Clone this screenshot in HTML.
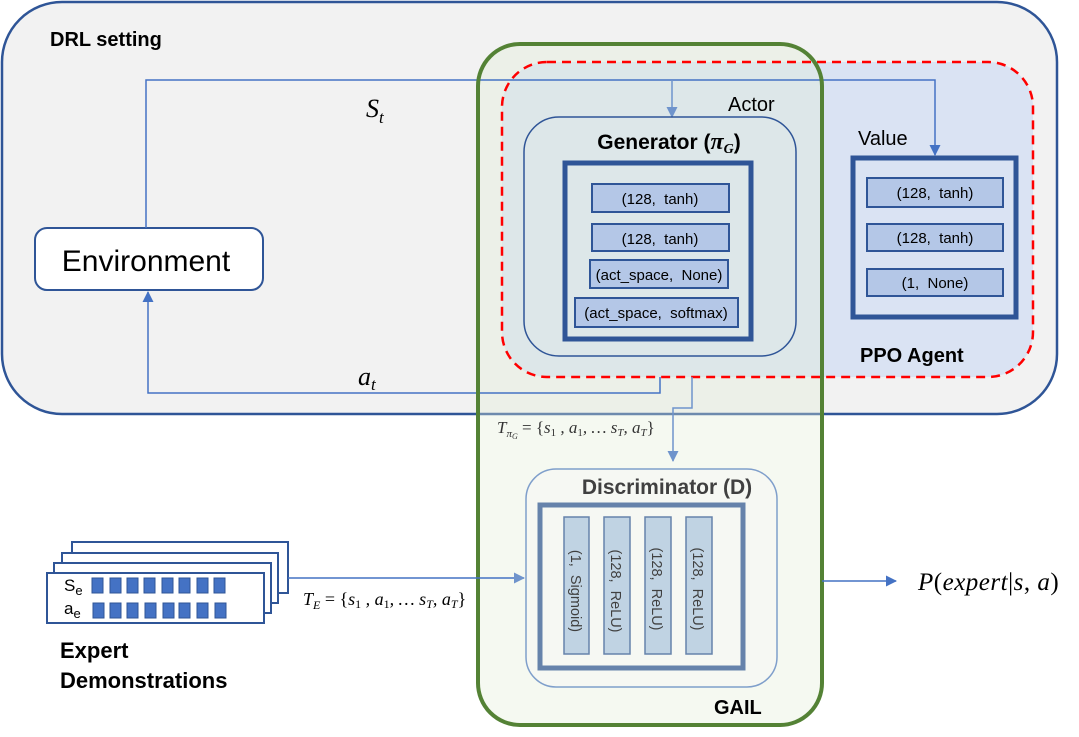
<!DOCTYPE html>
<html><head><meta charset="utf-8"><style>
html,body{margin:0;padding:0;background:#fff;width:1079px;height:737px;overflow:hidden}
svg{display:block;font-family:"Liberation Sans",sans-serif}
.m{font-family:"Liberation Serif",serif;font-style:italic}
</style></head><body>
<svg width="1079" height="737" viewBox="0 0 1079 737">
<defs>
<marker id="ah" markerWidth="11" markerHeight="11" refX="10" refY="5.5" orient="auto" markerUnits="userSpaceOnUse"><path d="M0,0 L11,5.5 L0,11 z" fill="#4472c4"/></marker>
<marker id="ahl" markerWidth="11" markerHeight="11" refX="10" refY="5.5" orient="auto" markerUnits="userSpaceOnUse"><path d="M0,0 L11,5.5 L0,11 z" fill="#6f94cc"/></marker>
</defs>
<rect x="2" y="2" width="1055" height="412" rx="60" fill="#f2f2f2" stroke="#2f5597" stroke-width="2.5"/>
<text x="50" y="46" font-size="20" font-weight="bold">DRL setting</text>
<rect x="502" y="62" width="531" height="315" rx="45" fill="#dae3f3"/>
<rect x="478" y="44" width="344" height="681" rx="42" fill="rgba(226,238,215,0.35)"/>
<rect x="502" y="62" width="531" height="315" rx="45" fill="none" stroke="#ff0000" stroke-width="2.5" stroke-dasharray="9,6"/>
<rect x="35" y="228" width="228" height="62" rx="12" fill="#fff" stroke="#2f5597" stroke-width="2"/>
<text x="146" y="271" font-size="30" text-anchor="middle">Environment</text>
<polyline points="146,228 146,80 935,80 935,155" fill="none" stroke="#4472c4" stroke-width="1.5" marker-end="url(#ah)"/>
<line x1="672" y1="80" x2="672" y2="117" stroke="#6f94cc" stroke-width="1.5" marker-end="url(#ahl)"/>
<text x="366" y="117" font-size="26" class="m">S<tspan font-size="17" dy="6">t</tspan></text>
<polyline points="660,377 660,393 148,393 148,292" fill="none" stroke="#4472c4" stroke-width="1.5" marker-end="url(#ah)"/>
<text x="358" y="385" font-size="26" class="m">a<tspan font-size="17" dy="5">t</tspan></text>
<rect x="524" y="117" width="272" height="239" rx="35" fill="none" stroke="#2f5597" stroke-width="1.5"/>
<text x="669" y="149" font-size="21" font-weight="bold" text-anchor="middle">Generator (<tspan class="m" font-family="Liberation Serif" font-size="24">π<tspan font-size="14" dy="4">G</tspan></tspan><tspan dy="-4">)</tspan></text>
<rect x="565" y="163" width="186" height="176" fill="none" stroke="#2f5597" stroke-width="5"/>
<g fill="#b4c7e7" stroke="#2f5597" stroke-width="2">
<rect x="592" y="184" width="137" height="28"/>
<rect x="592" y="224" width="137" height="27"/>
<rect x="590" y="260" width="138" height="28"/>
<rect x="575" y="298" width="163" height="29"/>
<rect x="867" y="178" width="136" height="29"/>
<rect x="867" y="224" width="136" height="27"/>
<rect x="867" y="269" width="136" height="27"/>
</g>
<g font-size="15" text-anchor="middle">
<text x="660" y="204">(128,&#160; tanh)</text>
<text x="660" y="244">(128,&#160; tanh)</text>
<text x="659" y="280">(act_space,&#160; None)</text>
<text x="656" y="318">(act_space,&#160; softmax)</text>
<text x="935" y="198">(128,&#160; tanh)</text>
<text x="935" y="243">(128,&#160; tanh)</text>
<text x="935" y="288">(1,&#160; None)</text>
</g>
<text x="728" y="111" font-size="20">Actor</text>
<text x="858" y="145" font-size="20">Value</text>
<rect x="853" y="158" width="163" height="159" fill="none" stroke="#2f5597" stroke-width="5"/>
<text x="860" y="362" font-size="20" font-weight="bold">PPO Agent</text>
<rect x="478" y="44" width="344" height="681" rx="42" fill="none" stroke="#548235" stroke-width="4"/>
<polyline points="692,377 692,408 673,408 673,461" fill="none" stroke="#6f94cc" stroke-width="1.5" marker-end="url(#ahl)"/>
<text x="497" y="433" font-size="17" class="m" fill="#333">T<tspan font-size="11" dy="4">π</tspan><tspan font-size="8" dy="2">G</tspan><tspan dy="-6" font-style="normal"> = {</tspan>s<tspan font-size="11" dy="3" font-style="normal">1</tspan><tspan dy="-3"> , a</tspan><tspan font-size="11" dy="3" font-style="normal">1</tspan><tspan dy="-3">, … s</tspan><tspan font-size="11" dy="3">T</tspan><tspan dy="-3">, a</tspan><tspan font-size="11" dy="3">T</tspan><tspan dy="-3" font-style="normal">}</tspan></text>
<rect x="526" y="469" width="251" height="218" rx="30" fill="#f6f8f3" stroke="#7f9fcb" stroke-width="1.5"/>
<text x="667" y="494" font-size="21" font-weight="bold" fill="#404040" text-anchor="middle">Discriminator (D)</text>
<rect x="540" y="505" width="203" height="163" fill="none" stroke="#6683ab" stroke-width="5"/>
<g fill="#c0d3e3" stroke="#6683ab" stroke-width="1.5">
<rect x="564" y="517" width="25" height="137"/>
<rect x="604" y="517" width="26" height="137"/>
<rect x="645" y="517" width="26" height="137"/>
<rect x="686" y="517" width="26" height="137"/>
</g>
<g font-size="14.5" fill="#404040" text-anchor="middle">
<text transform="translate(571,591) rotate(90)">(1,&#160; Sigmoid)</text>
<text transform="translate(611,591) rotate(90)">(128,&#160; ReLU)</text>
<text transform="translate(652,589) rotate(90)">(128,&#160; ReLU)</text>
<text transform="translate(693,589) rotate(90)">(128,&#160; ReLU)</text>
</g>
<text x="714" y="714" font-size="20" font-weight="bold">GAIL</text>
<line x1="822" y1="581" x2="896" y2="581" stroke="#4472c4" stroke-width="1.5" marker-end="url(#ah)"/>
<text x="918" y="590" font-size="25" class="m" letter-spacing="0.5">P<tspan font-style="normal">(</tspan>expert<tspan font-style="normal">|</tspan>s<tspan font-style="normal">,</tspan> a<tspan font-style="normal">)</tspan></text>
<g fill="#fff" stroke="#2f5597" stroke-width="2">
<rect x="72" y="542" width="216" height="51"/>
<rect x="62" y="553" width="216" height="50"/>
<rect x="54" y="563" width="217" height="50"/>
<rect x="47" y="573" width="217" height="50"/>
</g>
<line x1="288" y1="578" x2="524" y2="578" stroke="#4472c4" stroke-width="1.5" marker-end="url(#ahl)"/>
<text x="64" y="591" font-size="17">S<tspan font-size="13" dy="4">e</tspan></text>
<text x="64" y="614" font-size="17">a<tspan font-size="13" dy="4">e</tspan></text>
<g fill="#4472c4" stroke="#2f5597" stroke-width="1">
<rect x="92" y="578" width="11" height="15"/><rect x="110" y="578" width="11" height="15"/><rect x="127" y="578" width="11" height="15"/><rect x="144" y="578" width="11" height="15"/><rect x="162" y="578" width="11" height="15"/><rect x="179" y="578" width="11" height="15"/><rect x="197" y="578" width="11" height="15"/><rect x="214" y="578" width="11" height="15"/>
<rect x="93" y="603" width="11" height="15"/><rect x="110" y="603" width="11" height="15"/><rect x="127" y="603" width="11" height="15"/><rect x="145" y="603" width="11" height="15"/><rect x="163" y="603" width="11" height="15"/><rect x="179" y="603" width="11" height="15"/><rect x="197" y="603" width="11" height="15"/><rect x="215" y="603" width="11" height="15"/>
</g>
<text x="303" y="605" font-size="18" class="m">T<tspan font-size="12" dy="4">E</tspan><tspan dy="-4" font-style="normal"> = {</tspan>s<tspan font-size="12" dy="3" font-style="normal">1</tspan><tspan dy="-3"> , a</tspan><tspan font-size="12" dy="3" font-style="normal">1</tspan><tspan dy="-3">, … s</tspan><tspan font-size="12" dy="3">T</tspan><tspan dy="-3">, a</tspan><tspan font-size="12" dy="3">T</tspan><tspan dy="-3" font-style="normal">}</tspan></text>
<text x="60" y="658" font-size="22" font-weight="bold">Expert</text>
<text x="60" y="688" font-size="22" font-weight="bold">Demonstrations</text>
</svg>
</body></html>
